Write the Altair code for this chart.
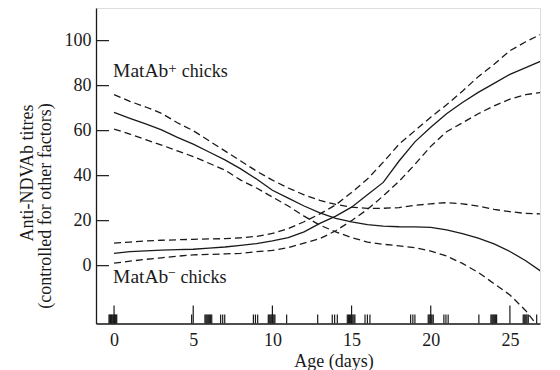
import altair as alt
import pandas as pd

# ---- data ----
days = list(range(0, 28))

pos_mean = [68.1, 65.5, 63.0, 60.3, 57.0, 54.0, 50.5, 47.0, 43.0, 38.5, 33.5, 30.0, 26.5, 23.5,
            21.0, 19.5, 18.2, 17.6, 17.3, 17.2, 17.0, 15.9, 14.2, 12.2, 9.7, 6.3, 2.2, -2.7]
pos_upper = [76.0, 73.0, 70.5, 67.7, 63.5, 60.0, 55.5, 51.0, 46.5, 42.0, 38.0, 34.5, 31.5, 29.0,
             27.2, 26.0, 25.5, 25.5, 25.8, 26.8, 27.5, 28.0, 27.5, 26.5, 25.0, 24.0, 23.2, 23.0]
pos_lower = [60.7, 58.5, 56.0, 53.6, 51.0, 48.5, 45.5, 42.5, 38.0, 34.5, 30.5, 26.5, 22.0, 18.0,
             15.0, 12.5, 10.5, 9.5, 8.8, 8.0, 6.5, 4.3, 1.0, -3.0, -8.0, -13.0, -20.0, -29.0]

neg_mean = [5.5, 6.2, 6.6, 6.9, 7.1, 7.3, 7.8, 8.3, 9.0, 9.8, 11.0, 12.5, 15.0, 18.8,
            22.0, 26.0, 31.5, 37.0, 46.5, 55.0, 61.5, 67.5, 72.5, 77.0, 81.0, 85.0, 88.0, 91.0]
neg_upper = [10.0, 10.5, 11.0, 11.3, 11.5, 11.7, 11.9, 12.0, 12.4, 13.0, 14.3, 16.5, 19.5, 23.0,
             27.0, 32.5, 38.5, 46.0, 54.0, 60.0, 66.0, 71.5, 77.5, 84.0, 89.5, 95.5, 99.5, 103.0]
neg_lower = [1.1, 2.0, 2.8, 3.5, 4.2, 4.8, 5.0, 5.2, 5.5, 6.2, 6.8, 8.0, 10.0, 12.0,
             15.5, 20.0, 25.0, 31.0, 37.5, 45.0, 53.0, 59.5, 63.5, 67.5, 71.0, 74.0, 76.0, 77.0]

rug_days = [-0.32, -0.27, -0.22, -0.17, -0.12, -0.07, -0.02, 0.03, 0.08, 0.13, 0.17,
            4.9,
            5.74, 5.8, 5.86, 5.92, 5.98, 6.04, 6.1, 6.17,
            6.73, 6.86, 6.99,
            8.8, 8.93, 9.07,
            9.74, 9.8, 9.86, 9.92, 9.98, 10.04, 10.1, 10.16,
            10.9, 12.86,
            13.78, 13.93, 14.1,
            14.73, 14.8, 14.87, 14.94, 15.01, 15.08, 15.15, 15.21,
            15.85, 16.0, 16.16,
            18.73, 18.87, 19.0,
            19.84, 19.9, 19.96, 20.02, 20.08, 20.16,
            20.83, 20.96, 21.1,
            23.04,
            23.8, 23.86, 23.92, 23.98, 24.04, 24.1, 24.16,
            25.84, 25.9, 25.96, 26.02, 26.08, 26.16,
            26.69]

x_ticks = [0, 5, 10, 15, 20, 25]
y_ticks = [0, 20, 40, 60, 80, 100]

# ---- build tables ----
rows = []
for name, vals in [("pos_mean", pos_mean), ("neg_mean", neg_mean)]:
    for d, v in zip(days, vals):
        rows.append({"series": name, "day": d, "value": v})
solid_df = pd.DataFrame(rows)

rows = []
for name, vals in [("pos_upper", pos_upper), ("pos_lower", pos_lower),
                   ("neg_upper", neg_upper), ("neg_lower", neg_lower)]:
    for d, v in zip(days, vals):
        rows.append({"series": name, "day": d, "value": v})
dash_df = pd.DataFrame(rows)

rug_df = pd.DataFrame({"day": rug_days})
xt_df = pd.DataFrame({"day": x_ticks})
yt_df = pd.DataFrame({"value": y_ticks})

W, H = 444, 315.5
FONT = "Liberation Serif"
INK = "#1a1a1a"

xscale = alt.Scale(domain=[-1.14, 26.9], nice=False, zero=False)
yscale = alt.Scale(domain=[-25.7, 114.5], nice=False, zero=False)

xaxis = alt.Axis(values=x_ticks, ticks=False, grid=False, title=None, labelFont=FONT,
                 labelFontSize=18, labelColor=INK, labelPadding=8, domainColor=INK,
                 domainWidth=1.3)
yaxis = alt.Axis(values=y_ticks, ticks=False, grid=False, title=None, labelFont=FONT,
                 labelFontSize=18, labelColor=INK, labelPadding=5, domainColor=INK,
                 domainWidth=1.3)

solid = alt.Chart(solid_df).mark_line(color=INK, strokeWidth=1.3, clip=True).encode(
    x=alt.X("day:Q", scale=xscale, axis=xaxis),
    y=alt.Y("value:Q", scale=yscale, axis=yaxis),
    detail="series:N",
)

dashed = alt.Chart(dash_df).mark_line(color=INK, strokeWidth=1.3, strokeDash=[7, 4],
                                      clip=True).encode(
    x=alt.X("day:Q", scale=xscale),
    y=alt.Y("value:Q", scale=yscale),
    detail="series:N",
)

rug = alt.Chart(rug_df).mark_rule(color=INK, strokeWidth=1.2).encode(
    x=alt.X("day:Q", scale=xscale),
    y=alt.value(H),
    y2=alt.value(H - 9),
)

xticks = alt.Chart(xt_df).mark_rule(color=INK, strokeWidth=1.2).encode(
    x=alt.X("day:Q", scale=xscale),
    y=alt.value(H),
    y2=alt.value(H - 18),
)

yticks = alt.Chart(yt_df).mark_rule(color=INK, strokeWidth=1.2).encode(
    y=alt.Y("value:Q", scale=yscale),
    x=alt.value(0),
    x2=alt.value(13),
)

def label(text, day, value, size=18, align="left", baseline="alphabetic"):
    return alt.Chart(pd.DataFrame({"t": [text], "day": [day], "value": [value]})).mark_text(
        font=FONT, fontSize=size, color=INK, align=align, baseline=baseline
    ).encode(
        x=alt.X("day:Q", scale=xscale),
        y=alt.Y("value:Q", scale=yscale),
        text="t:N",
    )

ann = [
    label("MatAb", -0.06, 84.0, size=19.5),
    label("+", 3.43, 85.6, size=15),
    label("chicks", 4.28, 84.0),
    label("MatAb", -0.06, -7.8, size=19.5),
    label("\u2212", 3.41, -5.2, size=14),
    label("chicks", 4.2, -7.8),
]

def free_text(text, x, y, angle=0, baseline="middle"):
    return alt.Chart(pd.DataFrame({"t": [text]})).mark_text(
        font=FONT, fontSize=18, color=INK, align="center", baseline=baseline, angle=angle
    ).encode(x=alt.value(x), y=alt.value(y), text="t:N")

titles = [
    free_text("Anti-NDVAb titres", -68, 165, angle=270),
    free_text("(controlled for other factors)", -50, 198, angle=270),
    free_text("Age (days)", 238, 358.7, baseline="alphabetic"),
]

chart = alt.layer(dashed, solid, rug, xticks, yticks, *ann, *titles).properties(
    width=W, height=H,
    autosize=alt.AutoSizeParams(type="none"),
    padding={"left": 88, "top": 0, "right": 12, "bottom": 47},
).configure_view(stroke=None).configure(background="white")

chart.save("out.html", embed_options={"renderer": "svg", "actions": False})
